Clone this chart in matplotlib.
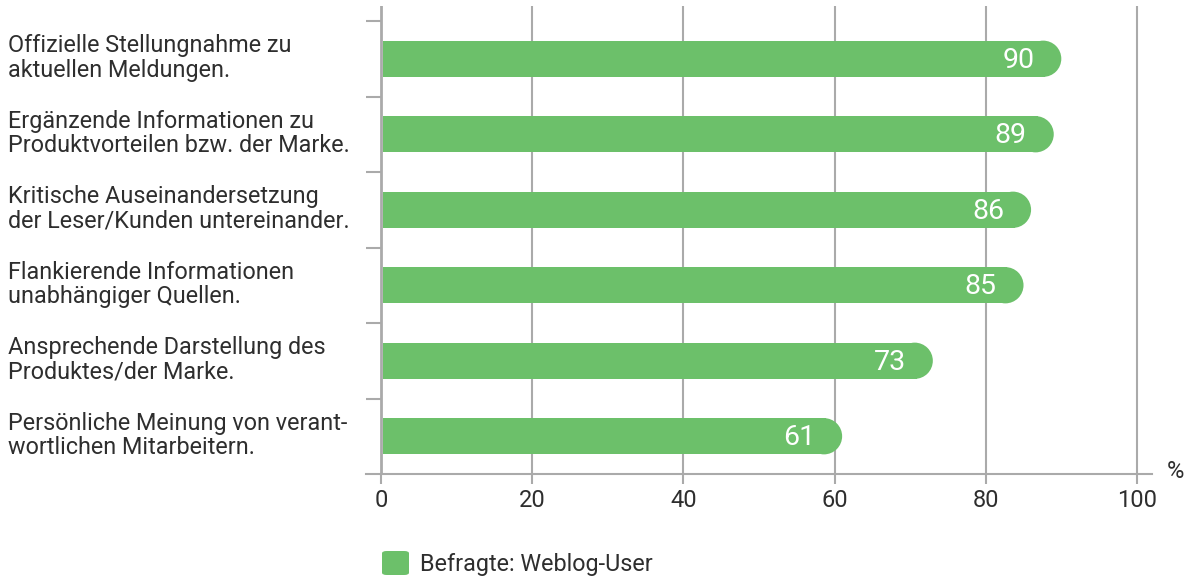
import matplotlib
matplotlib.use("Agg")
import matplotlib.pyplot as plt
from matplotlib.patches import Ellipse, FancyBboxPatch

categories = [
    "Offizielle Stellungnahme zu\naktuellen Meldungen.",
    "Ergänzende Informationen zu\nProduktvorteilen bzw. der Marke.",
    "Kritische Auseinandersetzung\nder Leser/Kunden untereinander.",
    "Flankierende Informationen\nunabhängiger Quellen.",
    "Ansprechende Darstellung des\nProduktes/der Marke.",
    "Persönliche Meinung von verant-\nwortlichen Mitarbeitern.",
]
values = [90, 89, 86, 85, 73, 61]
xticks = [0, 20, 40, 60, 80, 100]
series_label = "Befragte: Weblog-User"

GREEN = "#6cc06a"
GRID = "#aaaaaa"
TEXT = "#2e2e2e"
plt.rcParams["font.family"] = ["Roboto", "DejaVu Sans"]
plt.rcParams["font.weight"] = "normal"

W, H, DPI = 1192, 578, 100
fig = plt.figure(figsize=(W / DPI, H / DPI), dpi=DPI)
ax_l, ax_r, ax_t, ax_b = 366, 1152, 6, 474
ax = fig.add_axes([ax_l / W, 1 - ax_b / H, (ax_r - ax_l) / W, (ax_b - ax_t) / H])

n = len(categories)
ax.set_xlim(-2, 102)
ax.set_ylim(n - 0.5, -0.5 - 15 / 75.5)

for s in ["top", "right", "left"]:
    ax.spines[s].set_visible(False)
ax.spines["bottom"].set_color(GRID)
ax.spines["bottom"].set_linewidth(1.5)

# vertical grid lines
ax.set_xticks(xticks)
ax.set_xticklabels([str(t) for t in xticks], fontsize=17, color=TEXT)
ax.tick_params(axis="x", length=7, width=1.5, color=GRID, pad=4)
for t in xticks:
    ax.axvline(t, color=GRID, lw=1.5 if t else 2, zorder=0.5)

# y ticks at band boundaries (from -2 to 0 on the x scale)
ax.set_yticks([])
for i in range(n):
    ax.hlines(i - 0.5, -2, 0, color=GRID, lw=1.5, zorder=0.5)

# compute data units per pixel
px_per_x = (ax_r - ax_l) / 104.0
bar_h = 0.48
bar_px = bar_h * 75.5
r_x = (bar_px / 2) / px_per_x

for i, (c, v) in enumerate(zip(categories, values)):
    ax.barh(i, v - r_x, left=0.25, height=bar_h, color=GREEN, zorder=2, linewidth=0)
    ax.add_patch(Ellipse((v - r_x, i), 2 * r_x, bar_h, color=GREEN, zorder=2, lw=0))
    ax.text(v - 5.7, i + 0.02, str(v), ha="center", va="center", color="white",
            fontsize=20.5, zorder=3)
    fig.text(8 / W, 1 - (58 + i * 75.5) / H, c, ha="left", va="center",
             fontsize=16.8, color=TEXT, linespacing=1.08)

fig.text(1167 / W, 1 - 471 / H, "%", ha="left", va="center", fontsize=17, color=TEXT)

# legend
fig.patches.append(FancyBboxPatch((382 / W, 1 - 575 / H), 27 / W, 24 / H,
                                  boxstyle="round,pad=0,rounding_size=0.004",
                                  transform=fig.transFigure, color=GREEN, lw=0))
fig.text(420 / W, 1 - 564 / H, series_label, ha="left", va="center", fontsize=16.8, color=TEXT)

fig.savefig("out.png", dpi=DPI)
